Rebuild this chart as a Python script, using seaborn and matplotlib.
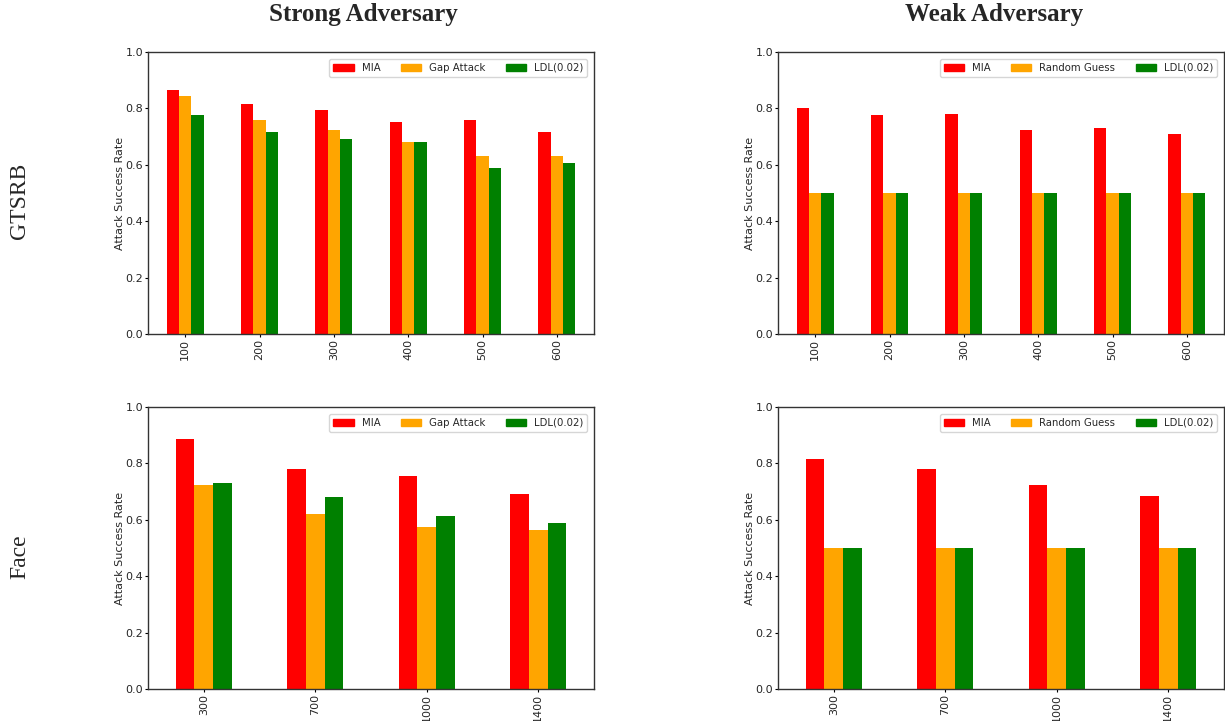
import numpy as np
import pandas as pd
import matplotlib
matplotlib.use("Agg")
import matplotlib.pyplot as plt
import seaborn as sns

# GTSRB: number of training samples per class
gtsrb_sizes = ["100", "200", "300", "400", "500", "600"]
gtsrb_strong_mia = [0.866, 0.817, 0.795, 0.753, 0.760, 0.717]
gtsrb_strong_gap = [0.845, 0.760, 0.725, 0.682, 0.632, 0.632]
gtsrb_strong_ldl = [0.778, 0.717, 0.693, 0.682, 0.590, 0.608]
gtsrb_weak_mia = [0.803, 0.778, 0.781, 0.725, 0.732, 0.710]
gtsrb_weak_rand = [0.5, 0.5, 0.5, 0.5, 0.5, 0.5]
gtsrb_weak_ldl = [0.5, 0.5, 0.5, 0.5, 0.5, 0.5]

# Face: number of training samples
face_sizes = ["300", "700", "1000", "1400"]
face_strong_mia = [0.888, 0.781, 0.757, 0.693]
face_strong_gap = [0.725, 0.622, 0.576, 0.565]
face_strong_ldl = [0.732, 0.682, 0.615, 0.590]
face_weak_mia = [0.817, 0.781, 0.725, 0.686]
face_weak_rand = [0.5, 0.5, 0.5, 0.5]
face_weak_ldl = [0.5, 0.5, 0.5, 0.5]

strong_methods = ["MIA", "Gap Attack", "LDL(0.02)"]
weak_methods = ["MIA", "Random Guess", "LDL(0.02)"]
bar_colors = ["red", "orange", "green"]


def long_frame(sizes, methods, series):
    rows = []
    for m, vals in zip(methods, series):
        for s, v in zip(sizes, vals):
            rows.append({"size": s, "method": m, "rate": v})
    return pd.DataFrame(rows)


sns.set_style("white")
plt.rcParams["font.family"] = ["DejaVu Sans"]

fig = plt.figure(figsize=(12.25, 7.21), dpi=100)
W, H = 1225, 721


def add_axes(x0, y0, x1, y1):
    return fig.add_axes([x0 / W, 1 - y1 / H, (x1 - x0) / W, (y1 - y0) / H])


panels = [
    (add_axes(148, 52, 594, 334), gtsrb_sizes, strong_methods,
     [gtsrb_strong_mia, gtsrb_strong_gap, gtsrb_strong_ldl]),
    (add_axes(778, 52, 1224, 334), gtsrb_sizes, weak_methods,
     [gtsrb_weak_mia, gtsrb_weak_rand, gtsrb_weak_ldl]),
    (add_axes(148, 407, 594, 689), face_sizes, strong_methods,
     [face_strong_mia, face_strong_gap, face_strong_ldl]),
    (add_axes(778, 407, 1224, 689), face_sizes, weak_methods,
     [face_weak_mia, face_weak_rand, face_weak_ldl]),
]

for ax, sizes, methods, series in panels:
    df = long_frame(sizes, methods, series)
    sns.barplot(data=df, x="size", y="rate", hue="method", order=sizes,
                hue_order=methods, palette=bar_colors, width=0.5, gap=0,
                saturation=1, linewidth=0, ax=ax, legend=False)
    ax.set_xlim(-0.5, len(sizes) - 0.5)
    ax.set_ylim(0, 1.0)
    ticks = np.arange(0, 1.01, 0.2)
    ax.set_yticks(ticks)
    ax.set_yticklabels([f"{t:.1f}" for t in ticks], fontsize=8)
    ax.set_xticks(range(len(sizes)))
    ax.set_xticklabels(sizes, rotation=90, fontsize=8)
    ax.set_xlabel("")
    ax.set_ylabel("Attack Success Rate", fontsize=8, labelpad=0.5)
    ax.tick_params(axis="both", direction="out", length=2, width=0.8,
                   pad=1.5, color="black", bottom=True, left=True)
    for sp in ax.spines.values():
        sp.set_color("#333333")
        sp.set_linewidth(1.0)
    handles = [plt.Rectangle((0, 0), 1, 1, color=c) for c in bar_colors]
    ax.legend(handles, methods, ncol=3, loc="upper right", fontsize=7.3,
              frameon=True, borderaxespad=0.65)

title_font = dict(family="Liberation Serif", fontsize=18, fontweight="bold")
fig.text(363 / W, 1 - 14 / H, "Strong Adversary", ha="center", va="center",
         **title_font)
fig.text(994 / W, 1 - 14 / H, "Weak Adversary", ha="center", va="center",
         **title_font)

row_font = dict(family="Liberation Serif", fontsize=17)
fig.text(20 / W, 1 - 201 / H, "GTSRB", rotation=90, ha="center", va="center",
         **row_font)
fig.text(20 / W, 1 - 557 / H, "Face", rotation=90, ha="center", va="center",
         **row_font)

fig.savefig("out.png", dpi=100)
